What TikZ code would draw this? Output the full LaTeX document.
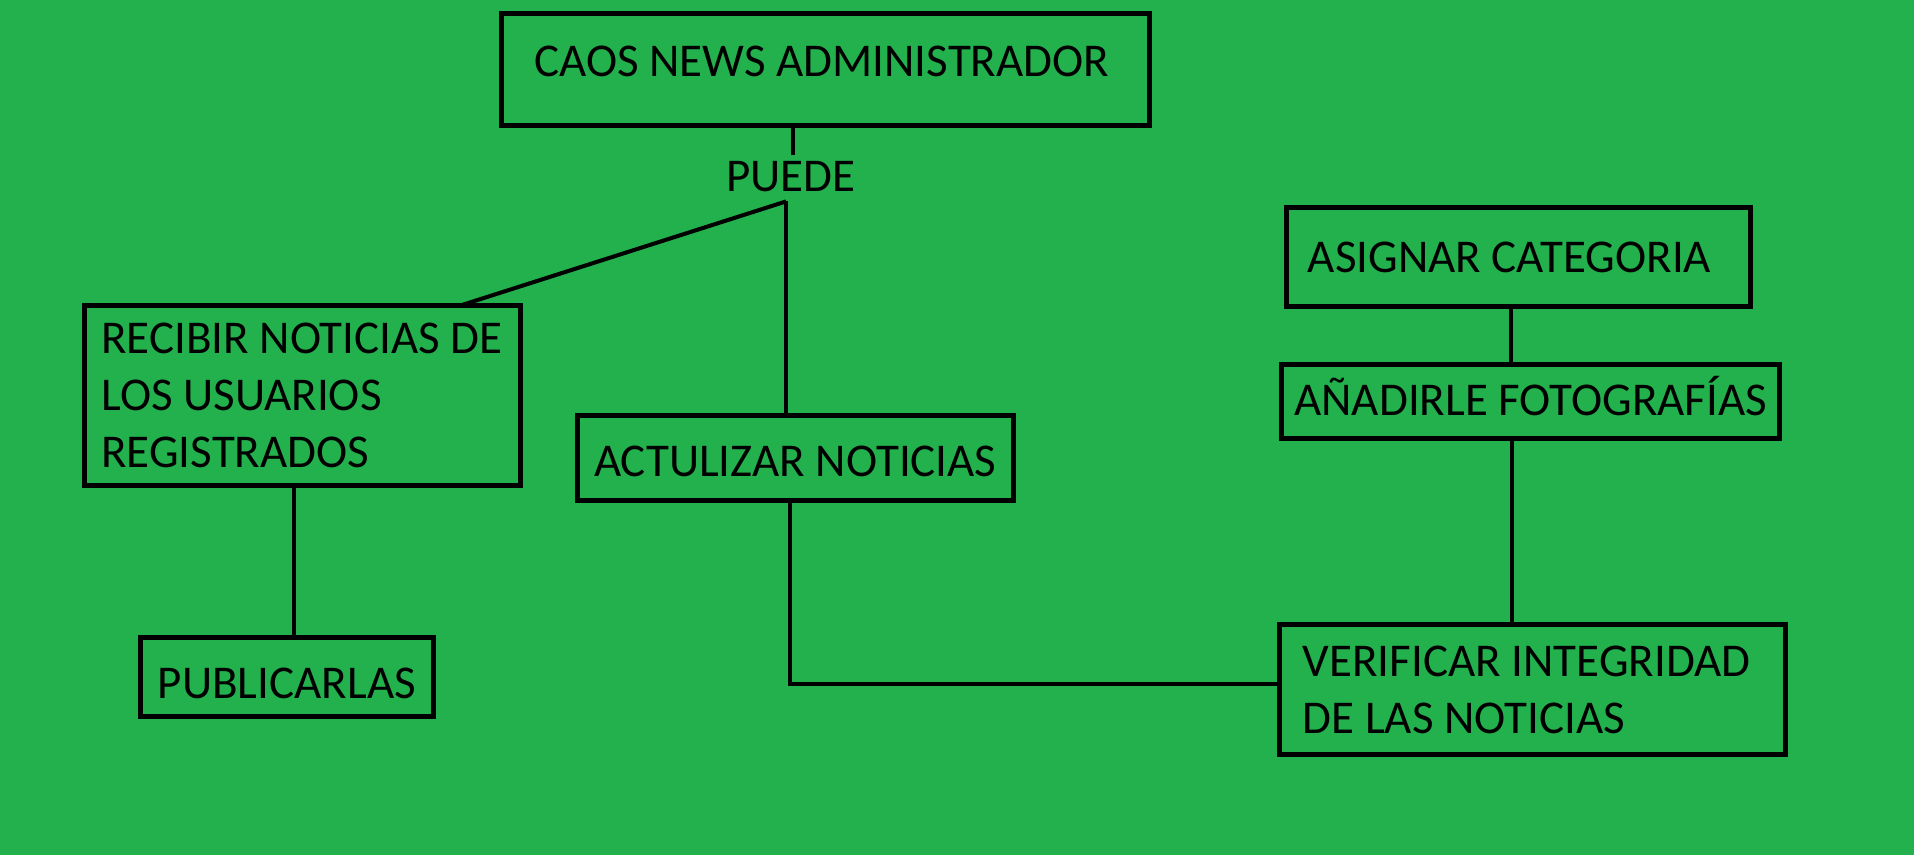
\documentclass[tikz,border=0pt]{standalone}
\usepackage{fontspec}
\setmainfont{Carlito}
\definecolor{paintgreen}{RGB}{34,177,76}
\def\u{1.2207pt}
\begin{document}
\begin{tikzpicture}[x=1.2207pt,y=-1.2207pt,
  box/.style={draw=black, line width=5pt, inner sep=0pt, outer sep=0pt, align=left,
    font=\fontsize{47}{57}\selectfont},
  conn/.style={draw=black, line width=4pt},
  lbl/.style={inner sep=0pt, font=\fontsize{47}{57}\selectfont}]
\useasboundingbox (0,0) rectangle (1568,700);
\fill[paintgreen] (-5,-5) rectangle (1575,705);

\node[box, minimum width={531*\u}, minimum height={92*\u}, text height=13pt, text depth=0pt] (caos) at (676.5,57) {CAOS NEWS ADMINISTRADOR\hspace{8pt}};
\node[lbl] (puede) at (648,145) {PUEDE};
\node[box, minimum width={357*\u}, minimum height={148*\u}] (recibir) at (247.5,324) {RECIBIR NOTICIAS DE\\LOS USUARIOS\\REGISTRADOS};
\node[box, minimum width={240*\u}, minimum height={65*\u}, text height=43pt, text depth=0pt] (publicar) at (235,554.5) {PUBLICARLAS};
\node[box, minimum width={357*\u}, minimum height={70*\u}, text height=37pt, text depth=0pt] (actualizar) at (651.5,375) {ACTULIZAR NOTICIAS};
\node[box, minimum width={415*\u}, minimum height={107*\u}] (verificar) at (1255.5,565) {VERIFICAR INTEGRIDAD\hspace*{12pt}\\DE LAS NOTICIAS};
\node[box, minimum width={380*\u}, minimum height={81*\u}, text height=31pt, text depth=0pt] (asignar) at (1244,210.5) {ASIGNAR CATEGORIA\hspace{18pt}};
\node[box, minimum width={408*\u}, minimum height={60*\u}, text height=28pt, text depth=0pt] (anadir) at (1254,329) {AÑADIRLE FOTOGRAFÍAS};

\coordinate (fork) at (644,165);
\draw[conn] (650,0 |- caos.south) -- (650,127);
\draw[conn] (fork) -- (378,0 |- recibir.north);
\draw[conn] (fork) -- (fork |- actualizar.north);
\draw[conn] (241,0 |- recibir.south) -- (241,0 |- publicar.north);
\draw[conn] (647,0 |- actualizar.south) |- ([yshift=6pt]verificar.west);
\draw[conn] (1238,0 |- asignar.south) -- (1238,0 |- anadir.north);
\draw[conn] (1239,0 |- anadir.south) -- (1239,0 |- verificar.north);
\end{tikzpicture}
\end{document}
